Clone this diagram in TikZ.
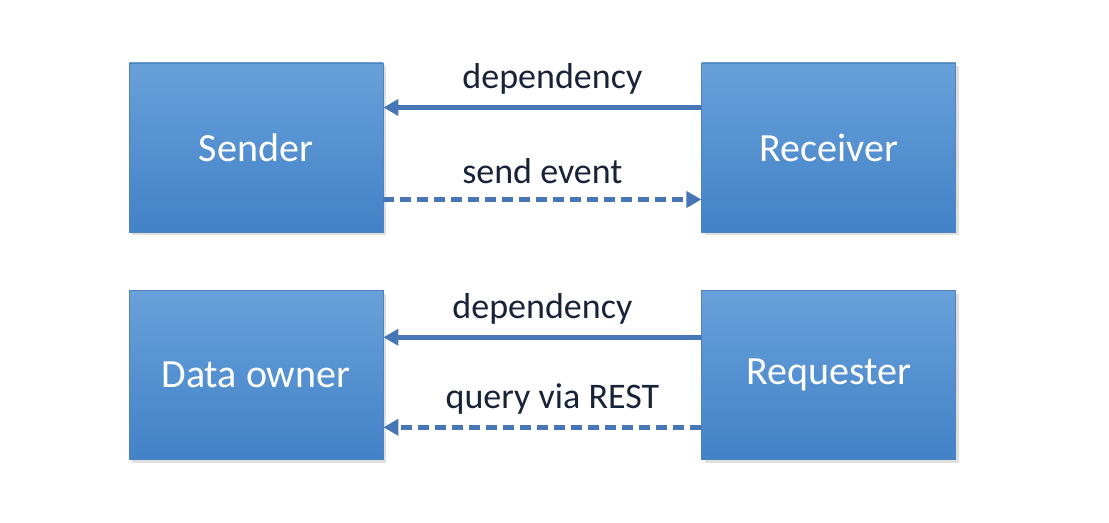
\documentclass[tikz,border=0pt]{standalone}
\usepackage{fontspec}
\setmainfont{Carlito}
\usetikzlibrary{arrows.meta,positioning,shadows}
\definecolor{boxtop}{RGB}{104,160,218}
\definecolor{boxbot}{RGB}{66,130,199}
\definecolor{boxline}{RGB}{80,130,190}
\definecolor{flowblue}{RGB}{70,118,182}
\definecolor{labelnavy}{RGB}{24,34,56}

\begin{document}
\begin{tikzpicture}[
  node distance=29pt and 159pt,
  party/.style={rectangle, draw=boxline, line width=0.4pt, top color=boxtop, bottom color=boxbot,
    minimum width=127pt, minimum height=84.5pt, align=center, text=white, font=\fontsize{20}{24}\selectfont,
    drop shadow={shadow xshift=1.5pt, shadow yshift=-1.5pt, opacity=0.25}},
  dep/.style={-{Triangle[length=7.5pt,width=8pt]}, flowblue, line width=2.4pt},
  msg/.style={dep, dash pattern=on 5.5pt off 3pt},
  lbl/.style={text=labelnavy, font=\fontsize{18}{22}\selectfont, inner sep=0pt}]
\useasboundingbox (0,0) rectangle (554.5pt,-261.5pt);
\node[party] (sender) at (128pt,-73.75pt) {Sender};
\node[party, right=of sender] (receiver) {Receiver};
\node[party, below=of sender] (owner) {Data owner};
\node[party, below=of receiver] (requester) {Requester};
% event driven
\draw[dep] ([yshift=20pt]receiver.west) -- ([yshift=20pt]sender.east)
  node[lbl, midway, above=5.5pt, xshift=5pt] {dependency};
\draw[msg] ([yshift=-26pt]sender.east) -- ([yshift=-26pt]receiver.west)
  node[lbl, midway, above=6.5pt] {send event};
% request driven
\draw[dep] ([yshift=19pt]requester.west) -- ([yshift=19pt]owner.east)
  node[lbl, midway, above=5.5pt] {dependency};
\draw[msg] ([yshift=-26pt]requester.west) -- ([yshift=-26pt]owner.east)
  node[lbl, midway, above=5.5pt, xshift=5pt] {query via REST};
\end{tikzpicture}
\end{document}
